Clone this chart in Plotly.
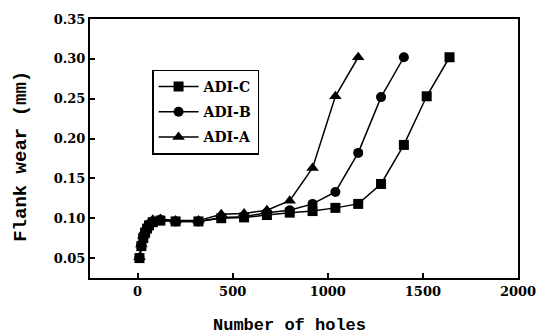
import plotly.graph_objects as go

# Data
holes_c = [10, 20, 30, 40, 50, 60, 80, 120, 200, 320, 440, 560, 680, 800, 920, 1040, 1160, 1280, 1400, 1520, 1640]
wear_c = [0.050, 0.065, 0.075, 0.082, 0.087, 0.091, 0.095, 0.097, 0.096, 0.096, 0.100, 0.101, 0.104, 0.107, 0.109, 0.113, 0.118, 0.143, 0.192, 0.253, 0.302]

holes_b = [10, 20, 30, 40, 50, 60, 80, 120, 200, 320, 440, 560, 680, 800, 920, 1040, 1160, 1280, 1400]
wear_b = [0.050, 0.066, 0.076, 0.083, 0.088, 0.092, 0.096, 0.098, 0.096, 0.096, 0.101, 0.102, 0.107, 0.110, 0.118, 0.133, 0.182, 0.252, 0.302]

holes_a = [10, 20, 30, 40, 50, 60, 80, 120, 200, 320, 440, 560, 680, 800, 920, 1040, 1160]
wear_a = [0.051, 0.067, 0.078, 0.085, 0.090, 0.094, 0.098, 0.099, 0.097, 0.097, 0.105, 0.106, 0.110, 0.122, 0.163, 0.253, 0.302]

series_names = ["ADI-C", "ADI-B", "ADI-A"]
series_symbols = ["square", "circle", "triangle-up"]

x_ticks = [0, 500, 1000, 1500, 2000]
y_ticks = [0.05, 0.10, 0.15, 0.20, 0.25, 0.30, 0.35]

fig = go.Figure()
for name, sym, xs, ys in zip(series_names, series_symbols,
                             [holes_c, holes_b, holes_a],
                             [wear_c, wear_b, wear_a]):
    fig.add_trace(go.Scatter(
        x=xs, y=ys, name=name, legendgroup=name, mode="lines+markers",
        line=dict(color="black", width=1.5),
        marker=dict(symbol=sym, size=10 if sym != "triangle-up" else 11, color="black"),
    ))

tick_font = dict(family="DejaVu Serif", size=13, color="black", weight="bold")
title_font = dict(family="Liberation Mono", size=17, color="black", weight="bold")

axis_common = dict(
    showline=True, linecolor="black", linewidth=2, mirror=True,
    ticks="inside", ticklen=5, tickcolor="black", tickwidth=1.5,
    showgrid=False, zeroline=False, tickfont=tick_font,
)

fig.update_layout(
    width=550, height=335,
    margin=dict(l=90, r=32, t=15, b=57),
    plot_bgcolor="white", paper_bgcolor="white",
    xaxis=dict(range=[-250, 2000], tickvals=x_ticks, ticktext=[str(v) for v in x_ticks], **axis_common),
    yaxis=dict(range=[0.025, 0.35], tickvals=y_ticks, ticktext=[f"{v:.2f}" for v in y_ticks], **axis_common),
    legend=dict(
        x=0.145, y=0.805, xanchor="left", yanchor="top",
        bgcolor="white", bordercolor="black", borderwidth=1.5,
        font=dict(family="DejaVu Serif", size=14, color="black", weight="bold"),
        itemwidth=40, tracegroupgap=4,
    ),
    showlegend=True,
    annotations=[
        dict(text="Number of holes", xref="paper", yref="paper", x=0.467, y=-0.185,
             xanchor="center", yanchor="middle", showarrow=False, font=title_font),
        dict(text="Flank wear (mm)", xref="paper", yref="paper", x=-0.16, y=0.47,
             xanchor="center", yanchor="middle", textangle=-90, showarrow=False,
             font=dict(family="Liberation Mono", size=19, color="black", weight="bold")),
    ],
)

fig.write_html("out.html")
